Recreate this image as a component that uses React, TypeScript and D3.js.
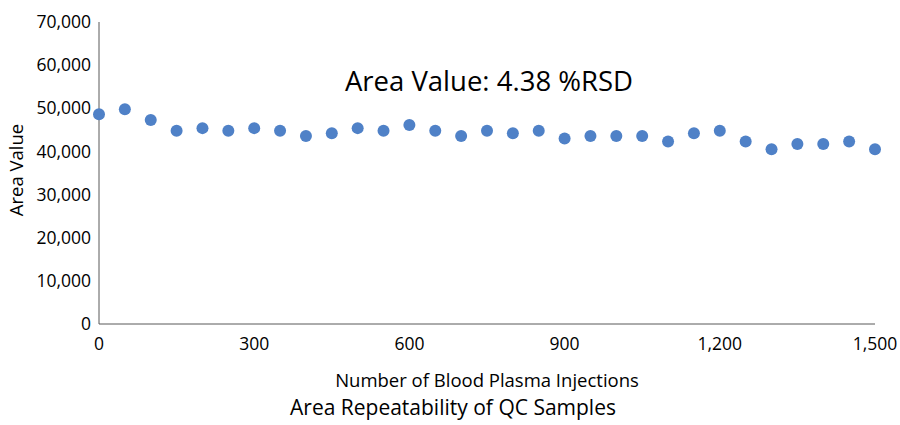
import React from "react";
import * as d3 from "d3";

const injections = [
	0, 50, 100, 150, 200, 250, 300, 350, 400, 450, 500, 550, 600, 650, 700, 750,
	800, 850, 900, 950, 1000, 1050, 1100, 1150, 1200, 1250, 1300, 1350, 1400,
	1450, 1500,
];
const areaValues = [
	48600, 49800, 47300, 44800, 45400, 44800, 45400, 44800, 43600, 44200, 45400,
	44800, 46100, 44800, 43600, 44800, 44200, 44800, 43000, 43600, 43600, 43600,
	42300, 44200, 44800, 42300, 40500, 41700, 41700, 42300, 40500,
];
const yTicks = [0, 10000, 20000, 30000, 40000, 50000, 60000, 70000];
const xTicks = [0, 300, 600, 900, 1200, 1500];

const chartTitle = "Area Value: 4.38 %RSD";
const xLabel = "Number of Blood Plasma Injections";
const yLabel = "Area Value";
const caption = "Area Repeatability of QC Samples";

const width = 900;
const height = 425;
const margin = { top: 22, right: 25, bottom: 101, left: 99 };
const font = "'Open Sans', sans-serif";

export default function App() {
	const x = d3
		.scaleLinear()
		.domain([0, 1500])
		.range([margin.left, width - margin.right]);
	const y = d3
		.scaleLinear()
		.domain([0, 70000])
		.range([height - margin.bottom, margin.top]);
	const fmt = d3.format(",");

	return (
		<svg
			width={width}
			height={height}
			style={{ position: "absolute", left: 0, top: 0, background: "#fff" }}
			fontFamily={font}
		>
			{/* axes, no tick marks */}
			<line
				x1={x(0)}
				x2={x(0)}
				y1={y(70000)}
				y2={y(0)}
				stroke="#595959"
				strokeWidth={1}
			/>
			<line
				x1={x(0)}
				x2={x(1500)}
				y1={y(0)}
				y2={y(0)}
				stroke="#595959"
				strokeWidth={1}
			/>
			{yTicks.map((t) => (
				<text
					key={t}
					x={x(0) - 8}
					y={y(t)}
					dy="0.35em"
					textAnchor="end"
					fontSize={17.5}
					fill="#000"
				>
					{fmt(t)}
				</text>
			))}
			{xTicks.map((t) => (
				<text
					key={t}
					x={x(t)}
					y={y(0) + 26}
					textAnchor="middle"
					fontSize={17.5}
					fill="#000"
				>
					{fmt(t)}
				</text>
			))}
			{/* points */}
			{injections.map((d, i) => (
				<circle key={i} cx={x(d)} cy={y(areaValues[i])} r={6} fill="#4f81c7" />
			))}
			<text x={489} y={91} textAnchor="middle" fontSize={27.5} fill="#000">
				{chartTitle}
			</text>
			<text x={487} y={387} textAnchor="middle" fontSize={18.5} fill="#000">
				{xLabel}
			</text>
			<text
				transform={`translate(23,170) rotate(-90)`}
				textAnchor="middle"
				fontSize={18.5}
				fill="#000"
			>
				{yLabel}
			</text>
			<text x={453} y={415} textAnchor="middle" fontSize={21} fill="#000">
				{caption}
			</text>
		</svg>
	);
}
